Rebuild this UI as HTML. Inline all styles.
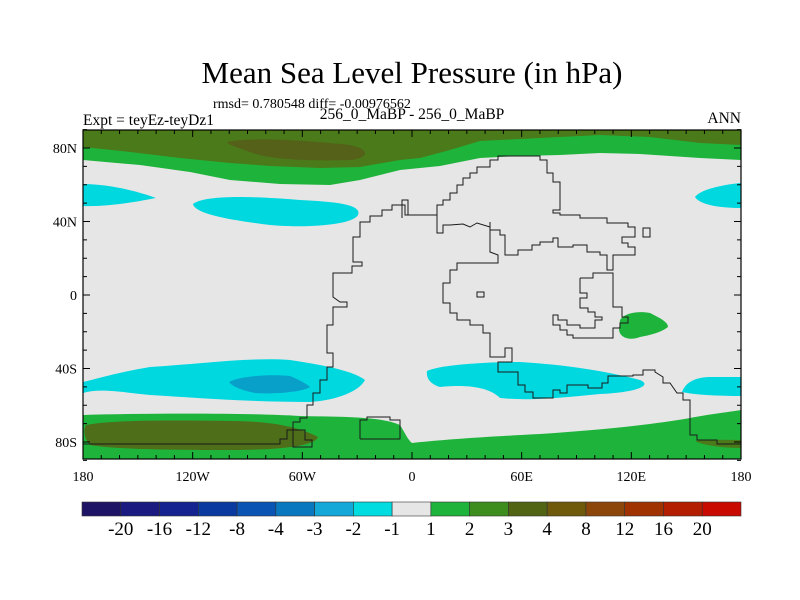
<!DOCTYPE html>
<html><head><meta charset="utf-8"><style>
body{margin:0;background:#fff;}
svg{display:block;font-family:"Liberation Serif",serif;}
</style></head><body>
<svg width="800" height="600" viewBox="0 0 800 600">
<text x="412" y="83" font-size="31" text-anchor="middle">Mean Sea Level Pressure (in hPa)</text>
<text x="213" y="108" font-size="14">rmsd= 0.780548 diff= -0.00976562</text>
<text x="412" y="119" font-size="15.5" text-anchor="middle">256_0_MaBP - 256_0_MaBP</text>
<text x="83" y="125" font-size="15.5">Expt = teyEz-teyDz1</text>
<text x="741" y="123" font-size="15.5" text-anchor="end">ANN</text>

<defs><clipPath id="mc"><rect x="83" y="130" width="658" height="329"/></clipPath></defs>
<g clip-path="url(#mc)">
<rect x="83" y="130" width="658" height="329" fill="#e6e6e6"/>
<path fill="#1eb43c" d="M83,130 L741,130 L741,160 L700,158 L640,154 L600,153 L560,155 L520,156 L480,158 L440,166 L400,170 L360,180 L330,185 L280,184 L230,180 L190,172 L140,165 L83,160 Z"/>
<path fill="#4a7a1a" d="M83,130 L741,130 L741,145 L700,143 L650,137 L600,135 L560,137 L520,139 L480,141 L450,150 L420,158 L400,160 L360,167 L320,168 L270,166 L230,163 L180,158 L130,152 L83,147 Z"/>
<path fill="#556018" d="M227,142 C250,137 300,140 350,145 C372,150 368,158 350,160 C310,161 270,160 250,152 C240,148 230,146 227,142 Z"/>
<path fill="#00d8e0" d="M83,184 C110,184 140,192 156,198 C140,201 110,207 83,206 Z"/>
<path fill="#00d8e0" d="M193,204 C205,195 250,196 300,200 C340,202 362,205 358,215 C352,226 300,228 270,225 C230,220 195,214 193,204 Z"/>
<path fill="#00d8e0" d="M741,183 L741,208 C720,208 700,205 695,197 C700,190 720,185 741,183 Z"/>
<path fill="#00d8e0" d="M83,382 C100,378 120,372 150,367 C200,364 250,357 290,360 C330,366 355,372 365,380 C360,390 340,400 310,402 C250,402 200,398 150,395 C120,392 100,388 83,393 Z"/>
<path fill="#08a0c8" d="M229,382 C240,376 270,374 290,376 C300,380 308,385 310,387 C300,393 270,394 255,393 C240,390 232,386 229,382 Z"/>
<path fill="#00d8e0" d="M427,371 C440,365 480,362 520,362 C570,365 610,372 640,380 C652,385 640,392 600,394 C560,398 530,401 500,398 C490,388 470,384 440,387 C430,384 426,378 427,371 Z"/>
<path fill="#00d8e0" d="M741,377 L741,396 C720,396 695,395 682,392 C685,383 695,377 710,377 Z"/>
<path fill="#1eb43c" d="M620,320 C625,312 640,311 650,313 C660,318 668,322 668,327 C660,333 650,335 640,337 C630,341 620,338 619,330 Z"/>
<path fill="#1eb43c" d="M83,415 C150,413 250,413 300,416 C340,417 380,416 400,425 C405,433 408,440 412,443 C440,440 480,437 540,434 C600,430 650,425 690,418 C710,414 730,412 741,410 L741,459 L83,459 Z"/>
<path fill="#4f6e1a" d="M86,425 C110,420 170,420 230,421 C280,421 305,430 318,437 C315,446 280,450 230,450 C170,450 110,449 90,445 C84,438 83,430 86,425 Z"/>
<path fill="#4a7a1a" d="M695,441 C710,439 730,440 741,440 L741,448 C725,448 705,446 695,441 Z"/>
<g fill="none" stroke="#1a1a1a" stroke-width="1">
<polyline points="83,444 280,444 280,439 287,439 287,430 293,430 293,422 300,422 300,418 307,418 307,405 313,405 313,393 320,393 320,380 327,380 327,367 333,367 333,353 327,353 327,325 333,325 333,320 333,307 340,307 347,307 347,302 340,302 333,297 333,273 352,273 352,266 362,266 362,262 353,262 353,237 360,237 360,222 370,222 370,216 382,216 382,210 392,210 392,205 405,205 405,215 437,215 437,233 443,233 443,225 450,225 463,224 470,227 477,223 490,227 490,237 490,252 498,255 498,263 457,263 457,270 450,270 450,283 443,283 443,303 450,303 450,313 457,313 457,320 470,320 470,325 483,325 483,333 490,333 490,357 505,357 505,348 512,348 512,362 498,362 498,372 518,372 518,385 525,385 525,392 533,392 533,398 553,398 553,390 560,390 560,393 567,393 567,385 588,385 588,388 602,388 602,383 608,383 608,376 633,376 633,375 643,375 643,370 655,370 655,372 663,377 663,383 670,383 677,393 683,393 683,400 690,400 690,435 697,435 697,440 717,440 717,444 741,444"/>
<polyline points="437,215 437,205 443,205 443,200 450,200 450,193 457,193 457,185 463,185 463,178 470,178 470,173 477,173 477,167 490,167 490,160 498,160 498,156 540,156 540,160 547,160 547,173 553,173 553,182 560,182 560,210 553,210 553,213 560,213 560,215 580,215 580,218 607,218 607,223 628,223 628,227 635,227 635,237 622,237 622,243 628,243 628,247 635,247 635,255 613,255 613,270 607,270 607,255 600,255 600,252 587,252 587,245 573,245 573,247 558,247 558,238 553,238 553,242 540,242 540,245 532,245 532,250 518,250 518,255 505,255 505,235 500,235 500,230 490,230 490,222"/>
<rect x="643" y="228" width="7" height="9"/>
<rect x="477" y="292" width="7" height="5"/>
<polyline points="580,278 593,278 593,273 613,273 613,307 622,307 622,317 628,317 628,323 620,323 620,328 613,328 613,338 573,338 573,335 567,335 567,330 560,330 560,325 553,325 553,315 558,315 558,320 567,320 567,325 580,325 580,328 595,328 595,320 602,320 602,317 595,317 595,312 588,312 588,308 580,308 580,298 587,298 587,293 580,293 580,278"/>
<polyline points="402,218 402,200 408,200 408,215"/>
<polyline points="360,439 360,420 367,420 367,417 390,417 390,420 400,420 400,439 360,439"/>
<polyline points="293,430 293,447 312,447 312,440 305,440 305,430 293,430"/>
</g>
</g>
<rect x="83" y="130" width="658" height="329" fill="none" stroke="#000" stroke-width="1.2"/>
<g id="ticks" stroke="#000" stroke-width="1"></g>
<g id="labels" font-size="14"></g>
<g id="cbar"></g>
</svg>
<script>
const lonLabels=["180","120W","60W","0","60E","120E","180"];
const latVals=[80,40,0,-40,-80];
const latLabels=["80N","40N","0","40S","80S"];
const levels=["-20","-16","-12","-8","-4","-3","-2","-1","1","2","3","4","8","12","16","20"];
const colors=["#1e1466","#1a1a80","#14238f","#0a3aa0","#0a55b4","#0a78be","#14a8d8","#00dce0","#e6e6e6","#1eb43c","#3c8c1e","#506414","#6e5a0a","#8c460a","#a03200","#b41e00","#c80a00"];
const NS="http://www.w3.org/2000/svg";
const x0=83,x1=741,yTop=130,yBot=459;
function xs(lon){return x0+(lon+180)/360*(x1-x0);}
function ys(lat){return 295-lat*147/80;}
const tk=document.getElementById('ticks'),lb=document.getElementById('labels');
for(let lon=-180;lon<=180;lon+=10){
  const major=lon%60===0,L=major?7:4,x=xs(lon);
  [[yTop,yTop+L],[yBot,yBot-L]].forEach(p=>{const l=document.createElementNS(NS,'line');
  
  
  l.setAttribute('x1',x);l.setAttribute('x2',x);l.setAttribute('y1',p[0]);l.setAttribute('y2',p[1]);tk.appendChild(l);});
}
for(let lat=-90;lat<=90;lat+=10){
  const major=lat%40===0&&Math.abs(lat)<90,L=major?7:4,y=ys(lat);
  [[x0,x0+L],[x1,x1-L]].forEach(p=>{const l=document.createElementNS(NS,'line');
  
  
  l.setAttribute('y1',y);l.setAttribute('y2',y);l.setAttribute('x1',p[0]);l.setAttribute('x2',p[1]);tk.appendChild(l);});
}
lonLabels.forEach((s,i)=>{const t=document.createElementNS(NS,'text');
  
  
  t.setAttribute('x',xs(-180+i*60));t.setAttribute('y',481);t.setAttribute('text-anchor','middle');t.textContent=s;lb.appendChild(t);});
latVals.forEach((v,i)=>{const t=document.createElementNS(NS,'text');
  
  
  t.setAttribute('x',77);t.setAttribute('y',ys(v)+5);t.setAttribute('text-anchor','end');t.textContent=latLabels[i];lb.appendChild(t);});
const cb=document.getElementById('cbar'),cx0=82,cx1=741,bw=(cx1-cx0)/colors.length;
colors.forEach((c,i)=>{const r=document.createElementNS(NS,'rect');
  
  
  r.setAttribute('x',cx0+i*bw);r.setAttribute('y',502);r.setAttribute('width',bw);r.setAttribute('height',14);r.setAttribute('fill',c);r.setAttribute('stroke','#333');r.setAttribute('stroke-width','0.6');cb.appendChild(r);});
levels.forEach((s,i)=>{const t=document.createElementNS(NS,'text');
  
  
  t.setAttribute('x',cx0+(i+1)*bw);t.setAttribute('y',535);t.setAttribute('text-anchor','middle');t.setAttribute('font-size','19');t.textContent=s;cb.appendChild(t);});
</script>
</body></html>
